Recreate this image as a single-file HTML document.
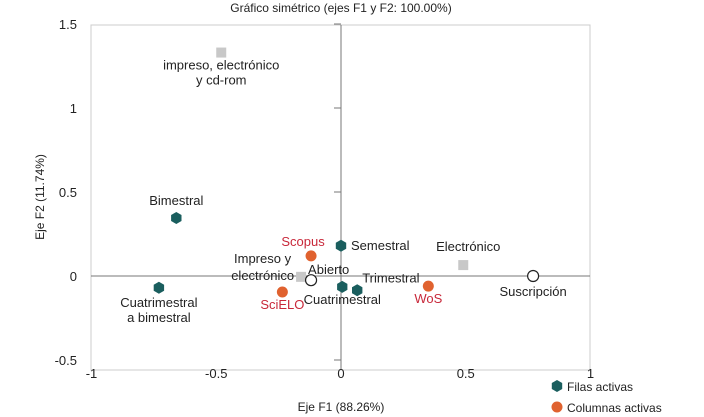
<!DOCTYPE html>
<html><head><meta charset="utf-8"><style>
body{margin:0;background:#fff;}
svg{display:block;font-family:"Liberation Sans",sans-serif;}
</style></head><body>
<svg id="c" width="704" height="417"></svg>
<script>
const rowLabels=["Bimestral","Semestral","Cuatrimestral","Trimestral","Cuatrimestral a bimestral"];
const rowX=[-0.66,0.0,0.005,0.065,-0.73];
const rowY=[0.345,0.18,-0.065,-0.085,-0.07];
const colLabels=["Scopus","SciELO","WoS"];
const colX=[-0.12,-0.235,0.35];
const colY=[0.12,-0.095,-0.06];
const supLabels=["impreso, electrónico y cd-rom","Impreso y electrónico","Electrónico"];
const supX=[-0.48,-0.16,0.49];
const supY=[1.33,-0.005,0.065];
const openLabels=["Abierto","Suscripción"];
const openX=[-0.12,0.77];
const openY=[-0.025,0.0];
const xTicks=[-1,-0.5,0,0.5,1];
const yTicks=[-0.5,0,0.5,1,1.5];
const xTickLabels=["-1","-0.5","0","0.5","1"];
const yTickLabels=["-0.5","0","0.5","1","1.5"];

const NS="http://www.w3.org/2000/svg";
const svg=document.getElementById('c');
const X=v=>341+249.5*v;
const Y=v=>276-168*v;
function mk(t,a,p){const e=document.createElementNS(NS,t);for(const k in a)e.setAttribute(k,a[k]);(p||svg).appendChild(e);return e;}
function txt(s,x,y,a){const e=mk('text',Object.assign({x:x,y:y,'font-size':13,fill:'#222'},a||{}));e.textContent=s;return e;}
function hex(cx,cy,r){let p=[];for(let i=0;i<6;i++){const a=Math.PI/3*i+Math.PI/6;p.push((cx+r*Math.cos(a)).toFixed(1)+','+(cy+r*Math.sin(a)).toFixed(1));}return p.join(' ');}

let e;
e=mk('rect',{x:91,y:25,width:499,height:345,fill:'none',stroke:'#ccc'});

e=mk('line',{x1:91,x2:590,y1:Y(0),y2:Y(0),stroke:'#777'});

e=mk('line',{x1:X(0),x2:X(0),y1:25,y2:370,stroke:'#777'});

yTicks.forEach((v,i)=>{
  e=mk('line',{x1:X(0)-7,x2:X(0),y1:Y(v),y2:Y(v),stroke:'#777'});
  
  e=txt(yTickLabels[i],77,Y(v)+5,{'text-anchor':'end'});
  
});
xTicks.forEach((v,i)=>{
  e=txt(xTickLabels[i],X(v),378,{'text-anchor':'middle'});
  
});
e=txt('Gráfico simétrico (ejes F1 y F2: 100.00%)',341,12,{'text-anchor':'middle','font-size':12});

e=txt('Eje F1 (88.26%)',341,411,{'text-anchor':'middle','font-size':12});

e=txt('Eje F2 (11.74%)',0,0,{'text-anchor':'middle','font-size':12,transform:'translate(44,197) rotate(-90)'});


// label offsets (layout only)
const rowOff=[[0,-13,'middle'],[10,4,'start'],[0,17,'middle'],[0,0,'middle'],[0,16,'middle']];
rowLabels.forEach((s,i)=>{
  e=mk('polygon',{points:hex(X(rowX[i]),Y(rowY[i]),6),fill:'#1a5e5e'});
  
  const o=rowOff[i];
  if(i===3){e=txt(s,X(rowX[i])+5,Y(rowY[i])-8,{'text-anchor':'start'});}
  else if(i===4){e=txt('Cuatrimestral',X(rowX[i]),Y(rowY[i])+19,{'text-anchor':'middle'});
    
    e=txt('a bimestral',X(rowX[i]),Y(rowY[i])+34,{'text-anchor':'middle'});}
  else e=txt(s,X(rowX[i])+o[0],Y(rowY[i])+o[1],{'text-anchor':o[2]});
  
});
const colOff=[[-8,-10],[0,17],[0,17]];
colLabels.forEach((s,i)=>{
  e=mk('circle',{cx:X(colX[i]),cy:Y(colY[i]),r:5.5,fill:'#e0622f'});
  
  e=txt(s,X(colX[i])+colOff[i][0],Y(colY[i])+colOff[i][1],{'text-anchor':'middle',fill:'#c8283a'});
  
});
supLabels.forEach((s,i)=>{
  const cx=X(supX[i]),cy=Y(supY[i]);
  e=mk('rect',{x:cx-5,y:cy-5,width:10,height:10,fill:'#c8c8c8'});
  
  if(i===0){e=txt('impreso, electrónico',cx,cy+17,{'text-anchor':'middle'});
    
    e=txt('y cd-rom',cx,cy+32,{'text-anchor':'middle'});}
  else if(i===1){e=txt('Impreso y',cx-10,cy-14,{'text-anchor':'end'});
    
    e=txt('electrónico',cx-7,cy+3,{'text-anchor':'end'});}
  else e=txt(s,cx+5,cy-14,{'text-anchor':'middle'});
  
});
openLabels.forEach((s,i)=>{
  const cx=X(openX[i]),cy=Y(openY[i]);
  e=mk('circle',{cx:cx,cy:cy,r:5.5,fill:'#fff',stroke:'#222','stroke-width':1.2});
  
  e=i===0?txt(s,cx-3,cy-6,{'text-anchor':'start'}):txt(s,cx,cy+20,{'text-anchor':'middle'});
  
});
// legend
e=mk('polygon',{points:hex(557,386,6),fill:'#1a5e5e'});

e=txt('Filas activas',567,391,{'font-size':12});

e=mk('circle',{cx:557,cy:407,r:5.5,fill:'#e0622f'});

e=txt('Columnas activas',567,412,{'font-size':12});

</script>
</body></html>
